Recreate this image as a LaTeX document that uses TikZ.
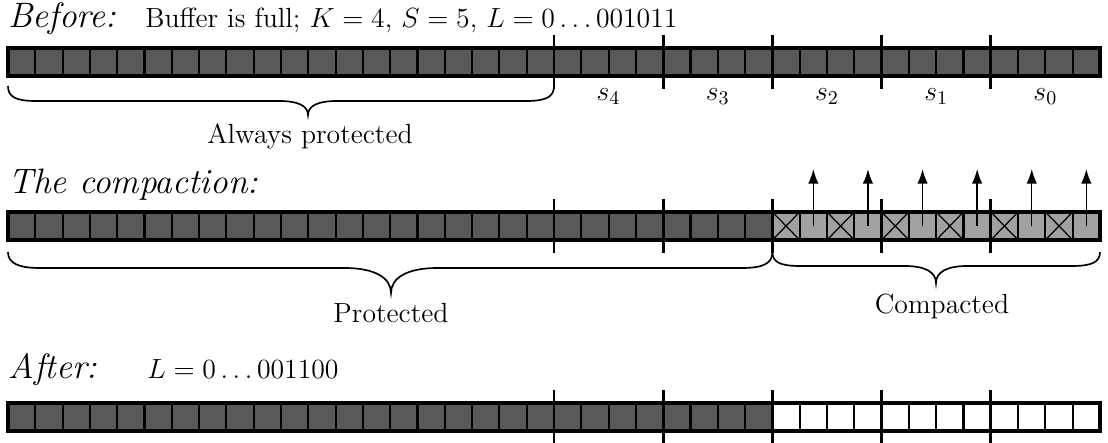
\RequirePackage{fix-cm}
\documentclass[tikz,border=0pt]{standalone}
\usetikzlibrary{arrows.meta}
\definecolor{cellDark}{gray}{0.35}
\definecolor{cellLight}{gray}{0.63}
\begin{document}
\begin{tikzpicture}[x=0.476pt,y=-0.476pt,
  cellbox/.style={line width=1pt},
  outerbox/.style={line width=1.7pt},
  tickline/.style={line width=1.3pt},
  bracepath/.style={line width=0.8pt},
  crossline/.style={line width=0.6pt},
  title/.style={font=\fontsize{16.8}{20}\selectfont\itshape, anchor=base west, inner sep=0pt},
  lbl/.style={font=\fontsize{13.2}{16}\selectfont, anchor=base, inner sep=0pt},
  lblw/.style={font=\fontsize{13.2}{16}\selectfont, anchor=base west, inner sep=0pt},
  uparrow/.style={line width=0.7pt, -{Latex[length=7pt,width=5pt]}}
]
\useasboundingbox (0,0) rectangle (1108,443);
\def\cw{27.3}
% ---------- Before ----------
\node[title] (tBefore) at (8,27) {Before:};
\node[lblw] (tInfo) at (145,27) {Buffer is full; $K=4$, $S=5$, $L=0\ldots001011$};
\foreach \k in {0,...,39}{
  \pgfmathsetmacro\xa{8+\cw*\k}
  \filldraw[fill=cellDark, cellbox] (\xa,48) rectangle ++(\cw,28);
}
\draw[outerbox] (8,48) rectangle (1100,76);
\foreach \k in {20,24,28,32,36}{
  \pgfmathsetmacro\xa{8+\cw*\k}
  \draw[tickline] (\xa,35) -- (\xa,89);
}
\foreach \i/\k in {4/20,3/24,2/28,1/32,0/36}{
  \pgfmathsetmacro\xm{8+\cw*\k+2*\cw}
  \node[lbl] (s\i) at (\xm,100) {$s_{\i}$};
}
% brace: Always protected
\coordinate (apL) at (8,86);
\coordinate (apR) at (554,86);
\draw[bracepath] (apL) .. controls (8,97) and (16,101) .. (36,101) -- (280,101)
  .. controls (296,101) and (308,105) .. (308,115)
  .. controls (308,105) and (320,101) .. (336,101) -- (526,101)
  .. controls (546,101) and (554,97) .. (apR);
\node[lbl] (tAlways) at (310,143) {Always protected};
% ---------- Compaction ----------
\node[title] (tComp) at (8,193) {The compaction:};
\foreach \k in {0,...,27}{
  \pgfmathsetmacro\xa{8+\cw*\k}
  \filldraw[fill=cellDark, cellbox] (\xa,212) rectangle ++(\cw,28);
}
\foreach \k in {28,30,...,38}{
  \pgfmathsetmacro\xa{8+\cw*\k}
  \pgfmathsetmacro\xb{8+\cw*(\k+1)}
  \filldraw[fill=cellLight, cellbox] (\xa,212) rectangle ++(\cw,28);
  \draw[crossline] (\xa,212) -- (\xb,240) (\xa,240) -- (\xb,212);
  \filldraw[fill=cellLight, cellbox] (\xb,212) rectangle ++(\cw,28);
}
\foreach \k in {29,31,...,39}{
  \pgfmathsetmacro\xm{8+\cw*\k+0.5*\cw}
  \coordinate (ab\k) at (\xm,226);
  \coordinate (at\k) at (\xm,169);
  \draw[uparrow] (ab\k) -- (at\k);
}
\draw[outerbox] (8,212) rectangle (1100,240);
\foreach \k in {20,24,28,32,36}{
  \pgfmathsetmacro\xa{8+\cw*\k}
  \draw[tickline] (\xa,199) -- (\xa,253);
}
% brace: Protected
\coordinate (prL) at (8,252);
\coordinate (prR) at (772.4,252);
\draw[bracepath] (prL) .. controls (8,263) and (18,268) .. (40,268) -- (345,268)
  .. controls (375,268) and (391,278) .. (391,293)
  .. controls (391,278) and (407,268) .. (437,268) -- (742,268)
  .. controls (764,268) and (772.4,263) .. (prR);
\node[lbl] (tProt) at (391,322) {Protected};
% brace: Compacted
\coordinate (cpL) at (772.4,252);
\coordinate (cpR) at (1100,252);
\draw[bracepath] (cpL) .. controls (772.4,262) and (780,266) .. (800,266) -- (905,266)
  .. controls (925,266) and (936,272) .. (936,283)
  .. controls (936,272) and (947,266) .. (967,266) -- (1072,266)
  .. controls (1092,266) and (1100,262) .. (cpR);
\node[lbl] (tCompd) at (942,313) {Compacted};
% ---------- After ----------
\node[title] (tAfter) at (8,378) {After:};
\node[lblw] (tL) at (147,378) {$L=0\ldots001100$};
\foreach \k in {0,...,27}{
  \pgfmathsetmacro\xa{8+\cw*\k}
  \filldraw[fill=cellDark, cellbox] (\xa,403) rectangle ++(\cw,28);
}
\foreach \k in {28,...,39}{
  \pgfmathsetmacro\xa{8+\cw*\k}
  \filldraw[fill=white, cellbox] (\xa,403) rectangle ++(\cw,28);
}
\draw[outerbox] (8,403) rectangle (1100,431);
\foreach \k in {20,24,28,32,36}{
  \pgfmathsetmacro\xa{8+\cw*\k}
  \draw[tickline] (\xa,390) -- (\xa,443);
}
\end{tikzpicture}
\end{document}
